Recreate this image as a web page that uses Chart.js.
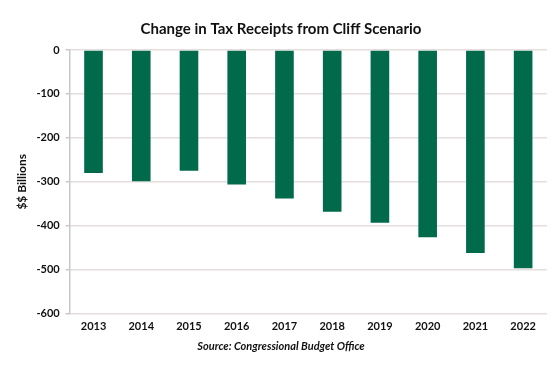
<!DOCTYPE html>
<html>
<head>
<meta charset="utf-8">
<script src="https://cdn.jsdelivr.net/npm/chart.js@4/dist/chart.umd.min.js"></script>
<style>
  html, body { margin: 0; padding: 0; background: #fff; }
  #wrap { width: 558px; height: 375px; }
</style>
</head>
<body>
<div id="wrap"><canvas id="tax-chart" width="558" height="375"></canvas></div>
<script>
const years = ['2013', '2014', '2015', '2016', '2017', '2018', '2019', '2020', '2021', '2022'];
const receiptChange = [-280, -299, -275, -306, -338, -368, -393, -426, -462, -497];
const yTicks = [0, -100, -200, -300, -400, -500, -600];

const ctx = document.getElementById('tax-chart').getContext('2d');
new Chart(ctx, {
    type: 'bar',
    data: {
        labels: years,
        datasets: [{
            label: 'Change in Tax Receipts',
            data: receiptChange,
            backgroundColor: '#006a4a',
            borderWidth: 0,
            categoryPercentage: 1,
            barPercentage: 0.39
        }]
    },
    options: {
        responsive: false,
        animation: false,
        layout: { padding: { left: 15, right: 11, top: 6, bottom: 22 } },
        plugins: {
            legend: { display: false },
            tooltip: { enabled: false },
            title: {
                display: true,
                text: 'Change in Tax Receipts from Cliff Scenario',
                color: '#111',
                font: { family: 'Lato', size: 15, weight: 'bold' },
                padding: { top: 14, bottom: 12 }
            },
            subtitle: {
                display: true,
                position: 'bottom',
                text: 'Source: Congressional Budget Office',
                color: '#111',
                font: { family: 'Lato', size: 11, weight: 'bold', style: 'italic' },
                padding: { top: 1, bottom: 0 }
            }
        },
        scales: {
            x: {
                grid: { display: false, drawTicks: false },
                border: { display: false },
                ticks: {
                    color: '#111',
                    font: { family: 'Lato', size: 11, weight: 'bold' },
                    padding: 6,
                    maxRotation: 0
                }
            },
            y: {
                min: -600,
                max: 0,
                afterBuildTicks: axis => {
                    axis.ticks = yTicks.map(v => ({ value: v }));
                },
                grid: {
                    color: '#e6dede',
                    lineWidth: 1.5,
                    tickLength: 4,
                    tickColor: '#c8c8c8'
                },
                border: { display: true, color: '#c8c8c8', width: 1.5 },
                ticks: {
                    color: '#111',
                    font: { family: 'Lato', size: 11, weight: 'bold' },
                    padding: 6
                },
                title: {
                    display: true,
                    text: '$$ Billions',
                    color: '#111',
                    font: { family: 'Lato', size: 12, weight: 'bold' },
                    padding: { top: 0, bottom: 1 }
                }
            }
        }
    }
});
</script>
</body>
</html>
